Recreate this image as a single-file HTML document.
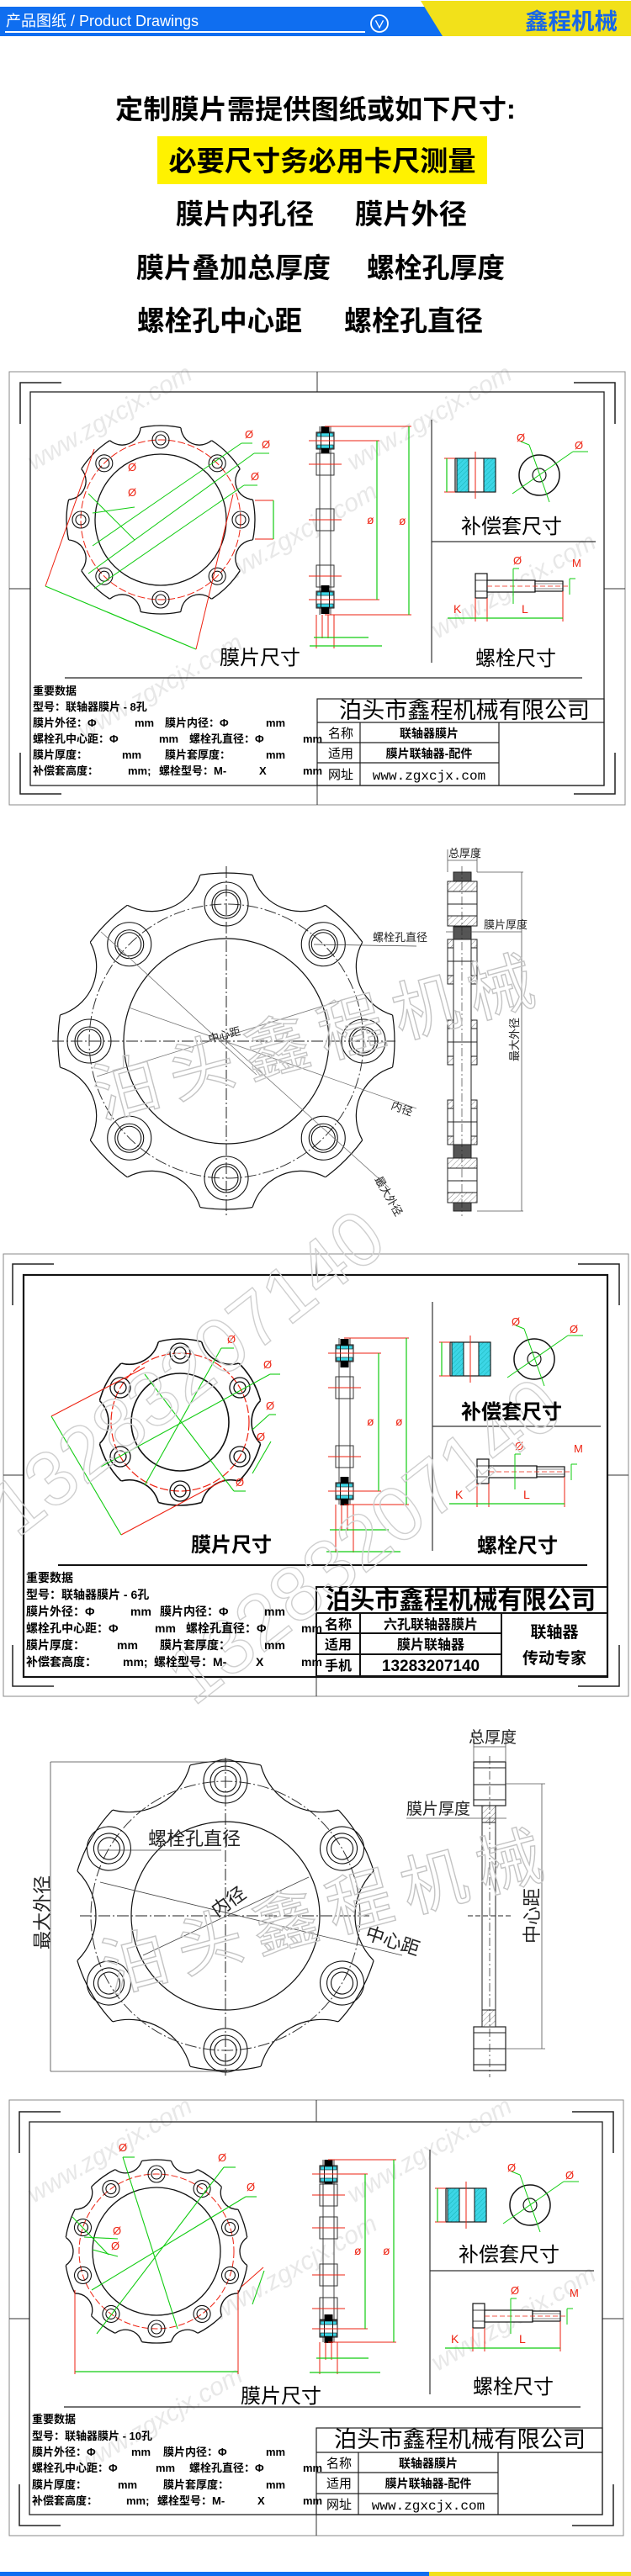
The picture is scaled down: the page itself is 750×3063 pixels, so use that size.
<!DOCTYPE html>
<html><head><meta charset="utf-8"><style>
html,body{margin:0;padding:0;background:#fff;width:750px;height:3063px;overflow:hidden}
svg{display:block;font-family:"Liberation Sans","Noto Sans CJK SC",sans-serif}
.b{font-weight:bold}
</style></head><body>
<svg xmlns="http://www.w3.org/2000/svg" xmlns:xlink="http://www.w3.org/1999/xlink" width="750" height="3063" viewBox="0 0 750 3063">
<defs>
<pattern id="h" width="5" height="5" patternUnits="userSpaceOnUse" patternTransform="rotate(45)"><rect width="5" height="5" fill="#fff"/><line x1="0" y1="0" x2="0" y2="5" stroke="#666" stroke-width="0.8"/></pattern>
<pattern id="hc" width="4" height="4" patternUnits="userSpaceOnUse" patternTransform="rotate(45)"><rect width="4" height="4" fill="#3cd6e6"/><line x1="0" y1="0" x2="0" y2="4" stroke="#1aa" stroke-width="0.8"/></pattern>

<!-- side view pieces -->
<g id="endh">
<rect x="0" y="-10" width="21" height="20" fill="#fff" stroke="#111"/>
<rect x="1" y="-9" width="19" height="4" fill="#3cd6e6" stroke="#111" stroke-width="0.6"/>
<rect x="1" y="5" width="19" height="4" fill="#3cd6e6" stroke="#111" stroke-width="0.6"/>
<rect x="5.5" y="-17" width="10" height="8" fill="#000"/>
<rect x="5.5" y="9" width="10" height="8" fill="#000"/>
<line x1="5.5" y1="-9" x2="5.5" y2="9" stroke="#111"/><line x1="15.5" y1="-9" x2="15.5" y2="9" stroke="#111"/>
<line x1="-9" y1="0" x2="30" y2="0" stroke="#e21"/>
</g>
<g id="midh">
<rect x="0" y="-13" width="21" height="26" fill="#fff" stroke="#333"/>
<line x1="4" y1="-13" x2="4" y2="13" stroke="#333"/><line x1="17" y1="-13" x2="17" y2="13" stroke="#333"/>
<line x1="-9" y1="0" x2="30" y2="0" stroke="#e21"/>
</g>
<!-- sleeve + washer -->
<g id="slv">
<rect x="0" y="0" width="48" height="40" fill="#fff" stroke="#111" stroke-width="1.2"/>
<rect x="2" y="0" width="14" height="40" fill="url(#hc)" stroke="#111"/>
<rect x="34" y="0" width="14" height="40" fill="url(#hc)" stroke="#111"/>
<line x1="24" y1="-8" x2="24" y2="48" stroke="#e21"/>
<line x1="-13" y1="0" x2="0" y2="0" stroke="#e21"/><line x1="-13" y1="40" x2="0" y2="40" stroke="#e21"/>
<line x1="-10" y1="0" x2="-10" y2="40" stroke="#1c1" stroke-width="1.2"/>
<circle cx="100" cy="20" r="24" fill="none" stroke="#111" stroke-width="1.5"/>
<circle cx="100" cy="20" r="8" fill="none" stroke="#111" stroke-width="1.2"/>
<line x1="68" y1="42" x2="140" y2="-8" stroke="#1c1"/><line x1="140" y1="-8" x2="158" y2="-8" stroke="#1c1"/>
<line x1="88" y1="-16" x2="112" y2="52" stroke="#1c1"/><line x1="88" y1="-16" x2="78" y2="-20" stroke="#1c1"/>
<text x="73" y="-20" font-size="13" fill="#e21">Ø</text><text x="142" y="-11" font-size="13" fill="#e21">Ø</text>
</g>
<!-- bolt -->
<g id="blt">
<rect x="0" y="0" width="14" height="29" fill="#fff" stroke="#111" stroke-width="1.2"/>
<line x1="0" y1="8" x2="14" y2="8" stroke="#111" stroke-width=".8"/><line x1="0" y1="21" x2="14" y2="21" stroke="#111" stroke-width=".8"/>
<rect x="14" y="8" width="57" height="14" fill="#fff" stroke="#111" stroke-width="1.2"/>
<rect x="71" y="9" width="33" height="12" fill="#fff" stroke="#111" stroke-width="1.2"/>
<line x1="71" y1="12" x2="104" y2="12" stroke="#111" stroke-width=".6"/><line x1="71" y1="18" x2="104" y2="18" stroke="#111" stroke-width=".6"/>
<line x1="14" y1="15" x2="112" y2="15" stroke="#e21" stroke-width=".8" stroke-dasharray="6 3"/>
<line x1="0" y1="29" x2="0" y2="57" stroke="#e21"/><line x1="14" y1="29" x2="14" y2="57" stroke="#e21"/><line x1="104" y1="21" x2="104" y2="57" stroke="#e21"/>
<line x1="-33" y1="53" x2="104" y2="53" stroke="#1c1" stroke-width="1.2"/>
<line x1="45" y1="-6" x2="45" y2="36" stroke="#1c1"/><line x1="45" y1="-6" x2="52" y2="-6" stroke="#1c1"/>
<line x1="112" y1="6" x2="112" y2="25" stroke="#1c1"/><line x1="112" y1="6" x2="119" y2="6" stroke="#1c1"/>
<text x="45" y="-11" font-size="13" fill="#e21">Ø</text><text x="115" y="-8" font-size="13" fill="#e21">M</text>
<text x="-26" y="47" font-size="14" fill="#e21">K</text><text x="55" y="47" font-size="14" fill="#e21">L</text>
</g>

<!-- flange 1 -->
<circle id="bt1" cx="191" cy="498" r="22"/>
<g id="hl1"><circle cx="191" cy="523" r="10"/><circle cx="191" cy="523" r="6"/></g>
<clipPath id="c1"><circle cx="191" cy="618" r="112"/></clipPath>
<mask id="m1" maskUnits="userSpaceOnUse" x="0" y="0" width="750" height="3063"><rect width="750" height="3063" fill="#fff"/>
<g fill="#000"><use xlink:href="#bt1" transform="rotate(22.5 191 618)"/><use xlink:href="#bt1" transform="rotate(67.5 191 618)"/><use xlink:href="#bt1" transform="rotate(112.5 191 618)"/><use xlink:href="#bt1" transform="rotate(157.5 191 618)"/><use xlink:href="#bt1" transform="rotate(202.5 191 618)"/><use xlink:href="#bt1" transform="rotate(247.5 191 618)"/><use xlink:href="#bt1" transform="rotate(292.5 191 618)"/><use xlink:href="#bt1" transform="rotate(337.5 191 618)"/></g></mask>
<!-- flange 2 -->
<circle id="bt2" cx="269" cy="1006" r="60"/>
<g id="hl2"><circle cx="269" cy="1075" r="26"/><circle cx="269" cy="1075" r="17"/><circle cx="269" cy="1075" r="14"/></g>
<clipPath id="c2"><circle cx="269" cy="1238" r="200"/></clipPath>
<mask id="m2" maskUnits="userSpaceOnUse" x="0" y="0" width="750" height="3063"><rect width="750" height="3063" fill="#fff"/>
<g fill="#000"><use xlink:href="#bt2" transform="rotate(22.5 269 1238)"/><use xlink:href="#bt2" transform="rotate(67.5 269 1238)"/><use xlink:href="#bt2" transform="rotate(112.5 269 1238)"/><use xlink:href="#bt2" transform="rotate(157.5 269 1238)"/><use xlink:href="#bt2" transform="rotate(202.5 269 1238)"/><use xlink:href="#bt2" transform="rotate(247.5 269 1238)"/><use xlink:href="#bt2" transform="rotate(292.5 269 1238)"/><use xlink:href="#bt2" transform="rotate(337.5 269 1238)"/></g></mask>
<!-- flange 3 -->
<circle id="bt3" cx="214" cy="1570" r="36"/>
<g id="hl3"><circle cx="214" cy="1609" r="12"/><circle cx="214" cy="1609" r="7"/></g>
<clipPath id="c3"><circle cx="214" cy="1691" r="99"/></clipPath>
<mask id="m3" maskUnits="userSpaceOnUse" x="0" y="0" width="750" height="3063"><rect width="750" height="3063" fill="#fff"/>
<g fill="#000"><use xlink:href="#bt3" transform="rotate(30 214 1691)"/><use xlink:href="#bt3" transform="rotate(90 214 1691)"/><use xlink:href="#bt3" transform="rotate(150 214 1691)"/><use xlink:href="#bt3" transform="rotate(210 214 1691)"/><use xlink:href="#bt3" transform="rotate(270 214 1691)"/><use xlink:href="#bt3" transform="rotate(330 214 1691)"/></g></mask>
<!-- flange 4 -->
<circle id="bt4" cx="268" cy="2049" r="75"/>
<g id="hl4"><circle cx="268" cy="2118" r="26"/><circle cx="268" cy="2118" r="18"/><circle cx="268" cy="2118" r="13"/></g>
<clipPath id="c4"><circle cx="268" cy="2278" r="184"/></clipPath>
<mask id="m4" maskUnits="userSpaceOnUse" x="0" y="0" width="750" height="3063"><rect width="750" height="3063" fill="#fff"/>
<g fill="#000"><use xlink:href="#bt4" transform="rotate(30 268 2278)"/><use xlink:href="#bt4" transform="rotate(90 268 2278)"/><use xlink:href="#bt4" transform="rotate(150 268 2278)"/><use xlink:href="#bt4" transform="rotate(210 268 2278)"/><use xlink:href="#bt4" transform="rotate(270 268 2278)"/><use xlink:href="#bt4" transform="rotate(330 268 2278)"/></g></mask>
<!-- flange 5 -->
<circle id="bt5" cx="186" cy="2558" r="20"/>
<g id="hl5"><circle cx="186" cy="2585" r="10"/><circle cx="186" cy="2585" r="6"/></g>
<clipPath id="c5"><circle cx="186" cy="2677" r="109"/></clipPath>
<mask id="m5" maskUnits="userSpaceOnUse" x="0" y="0" width="750" height="3063"><rect width="750" height="3063" fill="#fff"/>
<g fill="#000"><use xlink:href="#bt5" transform="rotate(18 186 2677)"/><use xlink:href="#bt5" transform="rotate(54 186 2677)"/><use xlink:href="#bt5" transform="rotate(90 186 2677)"/><use xlink:href="#bt5" transform="rotate(126 186 2677)"/><use xlink:href="#bt5" transform="rotate(162 186 2677)"/><use xlink:href="#bt5" transform="rotate(198 186 2677)"/><use xlink:href="#bt5" transform="rotate(234 186 2677)"/><use xlink:href="#bt5" transform="rotate(270 186 2677)"/><use xlink:href="#bt5" transform="rotate(306 186 2677)"/><use xlink:href="#bt5" transform="rotate(342 186 2677)"/></g></mask>
</defs>

<!-- header -->
<polygon points="0,8 508,8 528,43 0,43" fill="#0f6ef0"/>
<polygon points="500,1 750,1 750,43 526,43" fill="#f2e11a"/>
<text x="7" y="31" font-size="18" fill="#fff">产品图纸 / Product Drawings</text>
<line x1="6" y1="38" x2="434" y2="38" stroke="#fff" stroke-width="2"/>
<circle cx="451" cy="28" r="10" fill="none" stroke="#fff" stroke-width="1.8"/>
<text x="451" y="34" font-size="13" fill="#fff" text-anchor="middle" class="b">∨</text>
<text x="624" y="35" font-size="27" fill="#1766e8" class="b" textLength="110" lengthAdjust="spacingAndGlyphs">鑫程机械</text>
<!-- titles -->
<text x="375" y="141" font-size="32" text-anchor="middle" class="b" textLength="476" lengthAdjust="spacingAndGlyphs">定制膜片需提供图纸或如下尺寸:</text>
<rect x="187" y="162" width="392" height="57" fill="#fff200"/>
<text x="383" y="203" font-size="33" text-anchor="middle" class="b" textLength="365" lengthAdjust="spacingAndGlyphs">必要尺寸务必用卡尺测量</text>
<text x="209" y="266" font-size="33" class="b" textLength="164" lengthAdjust="spacingAndGlyphs">膜片内孔径</text>
<text x="422" y="266" font-size="33" class="b" textLength="133" lengthAdjust="spacingAndGlyphs">膜片外径</text>
<text x="162" y="330" font-size="33" class="b" textLength="231" lengthAdjust="spacingAndGlyphs">膜片叠加总厚度</text>
<text x="436" y="330" font-size="33" class="b" textLength="164" lengthAdjust="spacingAndGlyphs">螺栓孔厚度</text>
<text x="163" y="393" font-size="33" class="b" textLength="196" lengthAdjust="spacingAndGlyphs">螺栓孔中心距</text>
<text x="409" y="393" font-size="33" class="b" textLength="165" lengthAdjust="spacingAndGlyphs">螺栓孔直径</text>

<!-- faint web watermarks -->
<g fill="#e8e8e8" font-size="30" font-style="italic">
<text transform="translate(40,560) rotate(-30)">www.zgxcjx.com</text>
<text transform="translate(260,700) rotate(-30)">www.zgxcjx.com</text>
<text transform="translate(420,560) rotate(-30)">www.zgxcjx.com</text>
<text transform="translate(520,760) rotate(-30)">www.zgxcjx.com</text>
<text transform="translate(100,880) rotate(-30)">www.zgxcjx.com</text>
<text transform="translate(40,2620) rotate(-30)">www.zgxcjx.com</text>
<text transform="translate(260,2760) rotate(-30)">www.zgxcjx.com</text>
<text transform="translate(420,2620) rotate(-30)">www.zgxcjx.com</text>
<text transform="translate(520,2820) rotate(-30)">www.zgxcjx.com</text>
<text transform="translate(100,2940) rotate(-30)">www.zgxcjx.com</text>
</g>

<!-- ================= DRAWING 1 ================= -->
<g stroke="#888" fill="none"><rect x="11" y="442" width="732" height="515"/></g>
<g stroke="#333"><line x1="11" y1="700" x2="36" y2="700"/><line x1="718" y1="700" x2="743" y2="700"/><line x1="377" y1="442" x2="377" y2="466"/><line x1="377" y1="934" x2="377" y2="957"/></g>
<rect x="36" y="466" width="682" height="468" fill="none" stroke="#222" stroke-width="1.3"/>
<g stroke="#222" stroke-width="1.5" fill="none"><polyline points="73,455 24,455 24,504"/><polyline points="682,455 731,455 731,504"/><polyline points="24,895 24,944 73,944"/><polyline points="682,944 731,944 731,895"/></g>
<line x1="77" y1="806" x2="692" y2="806" stroke="#222" stroke-width="1.3"/>
<g stroke="#222" stroke-width="1.2" fill="none"><rect x="377" y="831" width="341" height="103"/><line x1="377" y1="859" x2="718" y2="859"/><line x1="377" y1="883" x2="593" y2="883"/><line x1="377" y1="907" x2="593" y2="907"/><line x1="428" y1="859" x2="428" y2="934"/><line x1="593" y1="859" x2="593" y2="934"/></g>
<g stroke="#333" stroke-width="1.2"><line x1="513" y1="499" x2="513" y2="788"/><line x1="513" y1="644" x2="708" y2="644"/></g>
<use xlink:href="#slv" x="541" y="545"/><use xlink:href="#blt" x="565" y="682"/>
<!-- flange 1 -->
<circle cx="191" cy="618" r="112" fill="#fff" mask="url(#m1)"/>
<circle cx="191" cy="618" r="112" fill="none" stroke="#111" stroke-width="1.3" mask="url(#m1)"/>
<g fill="none" stroke="#111" stroke-width="1.3" clip-path="url(#c1)"><use xlink:href="#bt1" transform="rotate(22.5 191 618)"/><use xlink:href="#bt1" transform="rotate(67.5 191 618)"/><use xlink:href="#bt1" transform="rotate(112.5 191 618)"/><use xlink:href="#bt1" transform="rotate(157.5 191 618)"/><use xlink:href="#bt1" transform="rotate(202.5 191 618)"/><use xlink:href="#bt1" transform="rotate(247.5 191 618)"/><use xlink:href="#bt1" transform="rotate(292.5 191 618)"/><use xlink:href="#bt1" transform="rotate(337.5 191 618)"/></g>
<circle cx="191" cy="618" r="78" fill="none" stroke="#111" stroke-width="1.3"/>
<circle cx="191" cy="618" r="95" fill="none" stroke="#e21" stroke-dasharray="9 3"/>
<g fill="none" stroke="#111" stroke-width="1.1"><use xlink:href="#hl1"/><use xlink:href="#hl1" transform="rotate(45 191 618)"/><use xlink:href="#hl1" transform="rotate(90 191 618)"/><use xlink:href="#hl1" transform="rotate(135 191 618)"/><use xlink:href="#hl1" transform="rotate(180 191 618)"/><use xlink:href="#hl1" transform="rotate(225 191 618)"/><use xlink:href="#hl1" transform="rotate(270 191 618)"/><use xlink:href="#hl1" transform="rotate(315 191 618)"/></g>
<g stroke="#1c1" fill="none">
<line x1="110" y1="649" x2="287" y2="527"/><line x1="287" y1="527" x2="300" y2="527"/>
<line x1="105" y1="682" x2="302" y2="539"/><line x1="302" y1="539" x2="320" y2="539"/>
<line x1="112" y1="700" x2="290" y2="577"/><line x1="290" y1="577" x2="306" y2="577"/>
<line x1="105" y1="587" x2="160" y2="642"/><line x1="110" y1="610" x2="160" y2="603"/>
<line x1="54" y1="697" x2="233" y2="772" stroke-width="1.2"/>
<line x1="303" y1="595" x2="325" y2="595" stroke="#e21"/><line x1="303" y1="641" x2="325" y2="641" stroke="#e21"/><line x1="325" y1="595" x2="325" y2="641" stroke-width="1.2"/>
</g>
<g stroke="#e21"><line x1="54" y1="697" x2="112" y2="534"/><line x1="233" y1="772" x2="277" y2="588"/></g>
<g font-size="13" fill="#e21"><text x="291" y="521">Ø</text><text x="311" y="533">Ø</text><text x="298" y="571">Ø</text><text x="152" y="560">Ø</text><text x="152" y="590">Ø</text></g>
<!-- side 1 -->
<g stroke="#444"><line x1="380" y1="507" x2="380" y2="731"/><line x1="393" y1="507" x2="393" y2="731"/></g>
<use xlink:href="#endh" x="376" y="524"/><use xlink:href="#midh" x="376" y="552"/><use xlink:href="#midh" x="376" y="618"/><use xlink:href="#midh" x="376" y="685"/><use xlink:href="#endh" x="376" y="713"/>
<g stroke="#e21"><line x1="397" y1="524" x2="451" y2="524"/><line x1="397" y1="713" x2="451" y2="713"/><line x1="386" y1="507" x2="489" y2="507"/><line x1="386" y1="731" x2="489" y2="731"/>
<line x1="376" y1="731" x2="376" y2="771"/><line x1="397" y1="731" x2="397" y2="771"/><line x1="383" y1="731" x2="383" y2="759"/><line x1="390" y1="731" x2="390" y2="759"/></g>
<g stroke="#1c1" stroke-width="1.2"><line x1="448" y1="524" x2="448" y2="713"/><line x1="486" y1="507" x2="486" y2="731"/><line x1="373" y1="758" x2="438" y2="758"/><line x1="368" y1="768" x2="454" y2="768"/></g>
<g font-size="14" fill="#e21"><text x="436" y="623">ø</text><text x="474" y="624">ø</text></g>
<!-- texts 1 -->
<g font-size="24"><text x="261" y="790">膜片尺寸</text><text x="548" y="634">补偿套尺寸</text><text x="565" y="791">螺栓尺寸</text></g>
<g font-size="13" class="b">
<text x="39" y="826">重要数据</text>
<text x="39" y="845">型号：联轴器膜片 - 8孔</text>
<text x="39" y="864">膜片外径：Φ</text><text x="160" y="864">mm</text><text x="196" y="864">膜片内径：Φ</text><text x="316" y="864">mm</text>
<text x="39" y="883">螺栓孔中心距：Φ</text><text x="189" y="883">mm</text><text x="225" y="883">螺栓孔直径：Φ</text><text x="360" y="883">mm</text>
<text x="39" y="902">膜片厚度：</text><text x="145" y="902">mm</text><text x="196" y="902">膜片套厚度：</text><text x="316" y="902">mm</text>
<text x="39" y="921">补偿套高度：</text><text x="152" y="921">mm;</text><text x="189" y="921">螺栓型号：M-</text><text x="308" y="921">X</text><text x="360" y="921">mm</text>
</g>
<text x="403" y="854" font-size="27" textLength="298" lengthAdjust="spacingAndGlyphs">泊头市鑫程机械有限公司</text>
<g font-size="15"><text x="390" y="877">名称</text><text x="390" y="901">适用</text><text x="390" y="926">网址</text></g>
<g font-size="14" class="b" text-anchor="middle"><text x="510" y="877">联轴器膜片</text><text x="510" y="901">膜片联轴器-配件</text></g>
<text x="510" y="927" font-size="16" text-anchor="middle" font-family="Liberation Mono,monospace">www.zgxcjx.com</text>

<!-- ================= DRAWING 2 ================= -->
<circle cx="269" cy="1238" r="200" fill="#fff" mask="url(#m2)"/>
<circle cx="269" cy="1238" r="200" fill="none" stroke="#111" stroke-width="1.2" mask="url(#m2)"/>
<g fill="none" stroke="#111" stroke-width="1.2" clip-path="url(#c2)"><use xlink:href="#bt2" transform="rotate(22.5 269 1238)"/><use xlink:href="#bt2" transform="rotate(67.5 269 1238)"/><use xlink:href="#bt2" transform="rotate(112.5 269 1238)"/><use xlink:href="#bt2" transform="rotate(157.5 269 1238)"/><use xlink:href="#bt2" transform="rotate(202.5 269 1238)"/><use xlink:href="#bt2" transform="rotate(247.5 269 1238)"/><use xlink:href="#bt2" transform="rotate(292.5 269 1238)"/><use xlink:href="#bt2" transform="rotate(337.5 269 1238)"/></g>
<circle cx="269" cy="1238" r="122" fill="none" stroke="#111" stroke-width="1.2"/>
<circle cx="269" cy="1238" r="163" fill="none" stroke="#333" stroke-dasharray="14 3 2 3"/>
<g fill="none" stroke="#111" stroke-width="1.1"><use xlink:href="#hl2"/><use xlink:href="#hl2" transform="rotate(45 269 1238)"/><use xlink:href="#hl2" transform="rotate(90 269 1238)"/><use xlink:href="#hl2" transform="rotate(135 269 1238)"/><use xlink:href="#hl2" transform="rotate(180 269 1238)"/><use xlink:href="#hl2" transform="rotate(225 269 1238)"/><use xlink:href="#hl2" transform="rotate(270 269 1238)"/><use xlink:href="#hl2" transform="rotate(315 269 1238)"/></g>
<g stroke="#222" stroke-dasharray="14 3 2 3"><line x1="62" y1="1238" x2="470" y2="1238"/><line x1="269" y1="1030" x2="269" y2="1446"/></g>
<g stroke="#777" stroke-width=".8"><line x1="120" y1="1108" x2="305" y2="1278"/><line x1="153" y1="1198" x2="495" y2="1318"/><line x1="269" y1="1238" x2="462" y2="1412"/><line x1="115" y1="1280" x2="420" y2="1185"/><line x1="373" y1="1123" x2="495" y2="1125" stroke="#444"/></g>
<!-- side 2 -->
<g stroke="#222"><line x1="539" y1="1048" x2="539" y2="1430"/><line x1="560" y1="1048" x2="560" y2="1430"/></g>
<g fill="#555" stroke="#222"><rect x="539" y="1037" width="21" height="11"/><rect x="539" y="1102" width="21" height="15"/><rect x="539" y="1361" width="21" height="16"/><rect x="539" y="1428" width="21" height="12"/></g>
<g stroke="#222">
<rect x="532" y="1048" width="35" height="53" fill="#fff"/><rect x="532" y="1048" width="35" height="12" fill="url(#h)"/><rect x="532" y="1089" width="35" height="12" fill="url(#h)"/><line x1="532" y1="1075" x2="567" y2="1075"/>
<rect x="532" y="1377" width="35" height="53" fill="#fff"/><rect x="532" y="1377" width="35" height="12" fill="url(#h)"/><rect x="532" y="1418" width="35" height="12" fill="url(#h)"/><line x1="532" y1="1404" x2="567" y2="1404"/>
<rect x="532" y="1117" width="7" height="53" fill="#fff"/><rect x="560" y="1117" width="7" height="53" fill="#fff"/><rect x="532" y="1117" width="7" height="10" fill="url(#h)"/><rect x="560" y="1117" width="7" height="10" fill="url(#h)"/><rect x="532" y="1160" width="7" height="10" fill="url(#h)"/><rect x="560" y="1160" width="7" height="10" fill="url(#h)"/><line x1="532" y1="1143" x2="567" y2="1143"/>
<rect x="532" y="1213" width="7" height="53" fill="#fff"/><rect x="560" y="1213" width="7" height="53" fill="#fff"/><rect x="532" y="1213" width="7" height="10" fill="url(#h)"/><rect x="560" y="1213" width="7" height="10" fill="url(#h)"/><rect x="532" y="1256" width="7" height="10" fill="url(#h)"/><rect x="560" y="1256" width="7" height="10" fill="url(#h)"/><line x1="532" y1="1239" x2="567" y2="1239"/>
<rect x="532" y="1308" width="7" height="53" fill="#fff"/><rect x="560" y="1308" width="7" height="53" fill="#fff"/><rect x="532" y="1308" width="7" height="10" fill="url(#h)"/><rect x="560" y="1308" width="7" height="10" fill="url(#h)"/><rect x="532" y="1351" width="7" height="10" fill="url(#h)"/><rect x="560" y="1351" width="7" height="10" fill="url(#h)"/><line x1="532" y1="1334" x2="567" y2="1334"/>
</g>
<line x1="549" y1="1030" x2="549" y2="1446" stroke="#222" stroke-width=".6" stroke-dasharray="10 3 2 3"/>
<g stroke="#555" stroke-width=".8"><line x1="532" y1="1010" x2="532" y2="1037"/><line x1="567" y1="1010" x2="567" y2="1037"/><line x1="532" y1="1023" x2="567" y2="1023"/><line x1="567" y1="1037" x2="622" y2="1037"/><line x1="567" y1="1440" x2="622" y2="1440"/><line x1="620" y1="1037" x2="620" y2="1440"/><line x1="530" y1="1108" x2="620" y2="1108"/></g>
<g font-size="13" fill="#222">
<text x="443" y="1119">螺栓孔直径</text>
<text transform="translate(464,1318) rotate(20)">内径</text>
<text transform="translate(445,1402) rotate(60)">最大外径</text>
<text transform="translate(249,1240) rotate(-15)">中心距</text>
<text x="533" y="1019">总厚度</text>
<text x="575" y="1104">膜片厚度</text>
<text transform="translate(616,1262) rotate(-90)">最大外径</text>
</g>
<g fill="none" stroke="#c4c4c4" stroke-width="1.4" font-size="78" letter-spacing="14"><text transform="translate(120,1330) rotate(-15)">泊头鑫程机械</text></g>

<!-- ================= DRAWING 3 ================= -->
<rect x="4" y="1491" width="743" height="526" fill="none" stroke="#888"/>
<g stroke="#333"><line x1="4" y1="1754" x2="28" y2="1754"/><line x1="722" y1="1754" x2="747" y2="1754"/><line x1="376" y1="1491" x2="376" y2="1516"/><line x1="376" y1="1994" x2="376" y2="2017"/></g>
<rect x="28" y="1516" width="694" height="478" fill="none" stroke="#111" stroke-width="2.2"/>
<g stroke="#222" stroke-width="1.5" fill="none"><polyline points="64,1503 15,1503 15,1552"/><polyline points="687,1503 736,1503 736,1552"/><polyline points="15,1956 15,2005 64,2005"/><polyline points="687,2005 736,2005 736,1956"/></g>
<line x1="69" y1="1861" x2="698" y2="1861" stroke="#111" stroke-width="2"/>
<g stroke="#111" stroke-width="2" fill="none"><rect x="376" y="1887" width="346" height="106"/><line x1="376" y1="1918" x2="722" y2="1918"/><line x1="376" y1="1942" x2="596" y2="1942"/><line x1="376" y1="1967" x2="596" y2="1967"/><line x1="428" y1="1918" x2="428" y2="1993"/><line x1="596" y1="1918" x2="596" y2="1993"/></g>
<g stroke="#333" stroke-width="1.2"><line x1="514" y1="1548" x2="514" y2="1844"/><line x1="514" y1="1696" x2="714" y2="1696"/></g>
<use xlink:href="#slv" x="535" y="1596"/><use xlink:href="#blt" x="567" y="1735"/>
<circle cx="214" cy="1691" r="99" fill="#fff" mask="url(#m3)"/>
<circle cx="214" cy="1691" r="99" fill="none" stroke="#111" stroke-width="1.6" mask="url(#m3)"/>
<g fill="none" stroke="#111" stroke-width="1.6" clip-path="url(#c3)"><use xlink:href="#bt3" transform="rotate(30 214 1691)"/><use xlink:href="#bt3" transform="rotate(90 214 1691)"/><use xlink:href="#bt3" transform="rotate(150 214 1691)"/><use xlink:href="#bt3" transform="rotate(210 214 1691)"/><use xlink:href="#bt3" transform="rotate(270 214 1691)"/><use xlink:href="#bt3" transform="rotate(330 214 1691)"/></g>
<circle cx="214" cy="1691" r="58" fill="none" stroke="#111" stroke-width="1.6"/>
<circle cx="214" cy="1691" r="82" fill="none" stroke="#e21" stroke-width="1.2" stroke-dasharray="10 3"/>
<g fill="none" stroke="#111" stroke-width="1.3"><use xlink:href="#hl3"/><use xlink:href="#hl3" transform="rotate(60 214 1691)"/><use xlink:href="#hl3" transform="rotate(120 214 1691)"/><use xlink:href="#hl3" transform="rotate(180 214 1691)"/><use xlink:href="#hl3" transform="rotate(240 214 1691)"/><use xlink:href="#hl3" transform="rotate(300 214 1691)"/></g>
<g stroke="#e21" stroke-width="1.1"><line x1="61" y1="1684" x2="172" y2="1626"/><line x1="144" y1="1825" x2="268" y2="1759"/></g>
<g stroke="#1c1" stroke-width="1.1">
<line x1="61" y1="1684" x2="144" y2="1825"/>
<line x1="172" y1="1766" x2="263" y2="1603"/><line x1="263" y1="1603" x2="278" y2="1603"/>
<line x1="120" y1="1744" x2="321" y2="1634"/><line x1="321" y1="1634" x2="333" y2="1634"/>
<line x1="172" y1="1634" x2="278" y2="1773"/><line x1="278" y1="1773" x2="292" y2="1773"/>
<line x1="300" y1="1700" x2="320" y2="1682"/><line x1="320" y1="1682" x2="328" y2="1682"/>
<line x1="300" y1="1752" x2="322" y2="1714"/>
</g>
<g font-size="13" fill="#e21"><text x="270" y="1597">Ø</text><text x="313" y="1627">Ø</text><text x="280" y="1767">Ø</text><text x="316" y="1676">Ø</text><text x="305" y="1713">Ø</text></g>
<g stroke="#444"><line x1="403" y1="1591" x2="403" y2="1789"/><line x1="416" y1="1591" x2="416" y2="1789"/></g>
<use xlink:href="#endh" x="399" y="1609"/><use xlink:href="#midh" x="399" y="1650"/><use xlink:href="#midh" x="399" y="1732"/><use xlink:href="#endh" x="399" y="1773"/>
<g stroke="#e21"><line x1="420" y1="1609" x2="453" y2="1609"/><line x1="420" y1="1773" x2="453" y2="1773"/><line x1="409" y1="1591" x2="486" y2="1591"/><line x1="409" y1="1789" x2="486" y2="1789"/>
<line x1="399" y1="1789" x2="399" y2="1846"/><line x1="420" y1="1789" x2="420" y2="1846"/><line x1="406" y1="1789" x2="406" y2="1820"/><line x1="413" y1="1789" x2="413" y2="1820"/></g>
<g stroke="#1c1" stroke-width="1.2"><line x1="450" y1="1609" x2="450" y2="1773"/><line x1="483" y1="1591" x2="483" y2="1789"/><line x1="392" y1="1819" x2="462" y2="1819"/><line x1="388" y1="1845" x2="476" y2="1845"/></g>
<g font-size="14" fill="#e21"><text x="436" y="1695">ø</text><text x="470" y="1695">ø</text></g>
<g fill="none" stroke="#cfcfcf" stroke-width="1.4" font-size="92"><text transform="translate(20,1830) rotate(-38)">13283207140</text><text transform="translate(230,2030) rotate(-38)">13283207140</text></g>
<g font-size="24" class="b"><text x="227" y="1845">膜片尺寸</text><text x="548" y="1687">补偿套尺寸</text><text x="567" y="1846">螺栓尺寸</text></g>
<g font-size="14" class="b">
<text x="31" y="1881">重要数据</text>
<text x="31" y="1901">型号：联轴器膜片 - 6孔</text>
<text x="31" y="1921">膜片外径：Φ</text><text x="155" y="1921">mm</text><text x="190" y="1921">膜片内径：Φ</text><text x="314" y="1921">mm</text>
<text x="31" y="1941">螺栓孔中心距：Φ</text><text x="184" y="1941">mm</text><text x="221" y="1941">螺栓孔直径：Φ</text><text x="358" y="1941">mm</text>
<text x="31" y="1961">膜片厚度：</text><text x="139" y="1961">mm</text><text x="190" y="1961">膜片套厚度：</text><text x="314" y="1961">mm</text>
<text x="31" y="1981">补偿套高度：</text><text x="146" y="1981">mm;</text><text x="183" y="1981">螺栓型号：M-</text><text x="304" y="1981">X</text><text x="358" y="1981">mm</text>
</g>
<text x="387" y="1913" font-size="30" class="b" textLength="321" lengthAdjust="spacingAndGlyphs">泊头市鑫程机械有限公司</text>
<g font-size="16" class="b"><text x="386" y="1937">名称</text><text x="386" y="1961">适用</text><text x="386" y="1986">手机</text></g>
<g font-size="16" class="b" text-anchor="middle"><text x="512" y="1937">六孔联轴器膜片</text><text x="512" y="1961">膜片联轴器</text><text x="512" y="1987" font-size="19">13283207140</text>
<text x="659" y="1947" font-size="19">联轴器</text><text x="659" y="1978" font-size="19">传动专家</text></g>

<!-- ================= DRAWING 4 ================= -->
<circle cx="268" cy="2278" r="184" fill="#fff" mask="url(#m4)"/>
<circle cx="268" cy="2278" r="184" fill="none" stroke="#111" stroke-width="1.2" mask="url(#m4)"/>
<g fill="none" stroke="#111" stroke-width="1.2" clip-path="url(#c4)"><use xlink:href="#bt4" transform="rotate(30 268 2278)"/><use xlink:href="#bt4" transform="rotate(90 268 2278)"/><use xlink:href="#bt4" transform="rotate(150 268 2278)"/><use xlink:href="#bt4" transform="rotate(210 268 2278)"/><use xlink:href="#bt4" transform="rotate(270 268 2278)"/><use xlink:href="#bt4" transform="rotate(330 268 2278)"/></g>
<circle cx="268" cy="2278" r="112" fill="none" stroke="#111" stroke-width="1.2"/>
<circle cx="268" cy="2278" r="160" fill="none" stroke="#333" stroke-dasharray="14 3 2 3"/>
<g fill="none" stroke="#111" stroke-width="1.1"><use xlink:href="#hl4"/><use xlink:href="#hl4" transform="rotate(60 268 2278)"/><use xlink:href="#hl4" transform="rotate(120 268 2278)"/><use xlink:href="#hl4" transform="rotate(180 268 2278)"/><use xlink:href="#hl4" transform="rotate(240 268 2278)"/><use xlink:href="#hl4" transform="rotate(300 268 2278)"/></g>
<g stroke="#222" stroke-dasharray="14 3 2 3"><line x1="95" y1="2278" x2="440" y2="2278"/><line x1="268" y1="2090" x2="268" y2="2468"/></g>
<g stroke="#444" stroke-width=".8"><line x1="60" y1="2095" x2="270" y2="2095"/><line x1="60" y1="2463" x2="270" y2="2463"/><line x1="60" y1="2095" x2="60" y2="2463"/><line x1="118" y1="2200" x2="263" y2="2200"/><line x1="119" y1="2238" x2="478" y2="2325"/><line x1="170" y1="2325" x2="367" y2="2232"/></g>
<g stroke="#222">
<rect x="563" y="2095" width="38" height="52" fill="#fff" stroke-width="1.2"/><line x1="563" y1="2102" x2="601" y2="2102"/><line x1="563" y1="2122" x2="601" y2="2122"/><line x1="563" y1="2140" x2="601" y2="2140"/>
<rect x="563" y="2410" width="38" height="52" fill="#fff" stroke-width="1.2"/><line x1="563" y1="2417" x2="601" y2="2417"/><line x1="563" y1="2436" x2="601" y2="2436"/><line x1="563" y1="2455" x2="601" y2="2455"/>
<rect x="573" y="2147" width="16" height="263" fill="#fff"/><rect x="573" y="2147" width="16" height="20" fill="url(#h)"/><rect x="573" y="2390" width="16" height="20" fill="url(#h)"/>
<line x1="582" y1="2088" x2="582" y2="2470" stroke-width=".7" stroke-dasharray="10 3 2 3"/><line x1="556" y1="2278" x2="608" y2="2278" stroke-dasharray="6 3"/>
</g>
<g stroke="#555" stroke-width=".8"><line x1="563" y1="2062" x2="563" y2="2095"/><line x1="601" y1="2062" x2="601" y2="2095"/><line x1="563" y1="2077" x2="601" y2="2077"/><line x1="601" y1="2121" x2="648" y2="2121"/><line x1="601" y1="2436" x2="648" y2="2436"/><line x1="644" y1="2121" x2="644" y2="2436"/><line x1="483" y1="2162" x2="602" y2="2162"/></g>
<g font-size="22" fill="#222">
<text transform="translate(58,2318) rotate(-90)">最大外径</text>
<text x="176" y="2194">螺栓孔直径</text>
<text transform="translate(258,2280) rotate(-35)">内径</text>
<text transform="translate(433,2305) rotate(18)">中心距</text>
<text x="557" y="2072" font-size="19">总厚度</text>
<text x="483" y="2157" font-size="19">膜片厚度</text>
<text transform="translate(640,2311) rotate(-90)">中心距</text>
</g>
<g fill="none" stroke="#c4c4c4" stroke-width="1.4" font-size="78" letter-spacing="14"><text transform="translate(130,2370) rotate(-15)">泊头鑫程机械</text></g>

<!-- ================= DRAWING 5 ================= -->
<rect x="11" y="2497" width="730" height="518" fill="none" stroke="#888"/>
<g stroke="#333"><line x1="11" y1="2757" x2="35" y2="2757"/><line x1="716" y1="2757" x2="741" y2="2757"/><line x1="376" y1="2497" x2="376" y2="2523"/><line x1="376" y1="2990" x2="376" y2="3015"/></g>
<rect x="35" y="2523" width="681" height="467" fill="none" stroke="#222" stroke-width="1.3"/>
<g stroke="#222" stroke-width="1.5" fill="none"><polyline points="72,2511 23,2511 23,2560"/><polyline points="680,2511 729,2511 729,2560"/><polyline points="23,2954 23,3003 72,3003"/><polyline points="680,3003 729,3003 729,2954"/></g>
<line x1="76" y1="2862" x2="690" y2="2862" stroke="#222" stroke-width="1.3"/>
<g stroke="#222" stroke-width="1.2" fill="none"><rect x="376" y="2887" width="340" height="103"/><line x1="376" y1="2916" x2="716" y2="2916"/><line x1="376" y1="2940" x2="592" y2="2940"/><line x1="376" y1="2965" x2="592" y2="2965"/><line x1="426" y1="2916" x2="426" y2="2990"/><line x1="592" y1="2916" x2="592" y2="2990"/></g>
<g stroke="#333" stroke-width="1.2"><line x1="511" y1="2556" x2="511" y2="2847"/><line x1="511" y1="2700" x2="706" y2="2700"/></g>
<use xlink:href="#slv" x="530" y="2602"/><use xlink:href="#blt" x="562" y="2739"/>
<circle cx="186" cy="2677" r="109" fill="#fff" mask="url(#m5)"/>
<circle cx="186" cy="2677" r="109" fill="none" stroke="#111" stroke-width="1.3" mask="url(#m5)"/>
<g fill="none" stroke="#111" stroke-width="1.3" clip-path="url(#c5)"><use xlink:href="#bt5" transform="rotate(18 186 2677)"/><use xlink:href="#bt5" transform="rotate(54 186 2677)"/><use xlink:href="#bt5" transform="rotate(90 186 2677)"/><use xlink:href="#bt5" transform="rotate(126 186 2677)"/><use xlink:href="#bt5" transform="rotate(162 186 2677)"/><use xlink:href="#bt5" transform="rotate(198 186 2677)"/><use xlink:href="#bt5" transform="rotate(234 186 2677)"/><use xlink:href="#bt5" transform="rotate(270 186 2677)"/><use xlink:href="#bt5" transform="rotate(306 186 2677)"/><use xlink:href="#bt5" transform="rotate(342 186 2677)"/></g>
<circle cx="186" cy="2677" r="76" fill="none" stroke="#111" stroke-width="1.3"/>
<circle cx="186" cy="2677" r="92" fill="none" stroke="#e21" stroke-dasharray="8 3"/>
<g fill="none" stroke="#111" stroke-width="1.1"><use xlink:href="#hl5"/><use xlink:href="#hl5" transform="rotate(36 186 2677)"/><use xlink:href="#hl5" transform="rotate(72 186 2677)"/><use xlink:href="#hl5" transform="rotate(108 186 2677)"/><use xlink:href="#hl5" transform="rotate(144 186 2677)"/><use xlink:href="#hl5" transform="rotate(180 186 2677)"/><use xlink:href="#hl5" transform="rotate(216 186 2677)"/><use xlink:href="#hl5" transform="rotate(252 186 2677)"/><use xlink:href="#hl5" transform="rotate(288 186 2677)"/><use xlink:href="#hl5" transform="rotate(324 186 2677)"/></g>
<g stroke="#1c1" stroke-width="1.1">
<line x1="146" y1="2565" x2="211" y2="2769"/><line x1="146" y1="2565" x2="160" y2="2565"/>
<line x1="115" y1="2775" x2="266" y2="2577"/><line x1="266" y1="2577" x2="280" y2="2577"/>
<line x1="109" y1="2723" x2="292" y2="2612"/><line x1="292" y1="2612" x2="305" y2="2612"/>
<line x1="86" y1="2636" x2="129" y2="2681"/><line x1="100" y1="2660" x2="140" y2="2662"/><line x1="110" y1="2675" x2="140" y2="2683"/>
<line x1="89" y1="2820" x2="283" y2="2820" stroke-width="1.2"/><line x1="300" y1="2740" x2="314" y2="2700"/>
</g>
<g stroke="#e21"><line x1="89" y1="2723" x2="89" y2="2823"/><line x1="283" y1="2723" x2="283" y2="2823"/><line x1="287" y1="2719" x2="313" y2="2696"/></g>
<g font-size="13" fill="#e21"><text x="141" y="2558">Ø</text><text x="259" y="2570">Ø</text><text x="293" y="2605">Ø</text><text x="134" y="2657">Ø</text><text x="132" y="2675">Ø</text></g>
<g stroke="#444"><line x1="384" y1="2568" x2="384" y2="2785"/><line x1="397" y1="2568" x2="397" y2="2785"/></g>
<use xlink:href="#endh" x="380" y="2585"/><use xlink:href="#midh" x="380" y="2610"/><use xlink:href="#midh" x="380" y="2649"/><use xlink:href="#midh" x="380" y="2705"/><use xlink:href="#midh" x="380" y="2745"/><use xlink:href="#endh" x="380" y="2769"/>
<g stroke="#e21"><line x1="401" y1="2585" x2="437" y2="2585"/><line x1="401" y1="2769" x2="437" y2="2769"/><line x1="390" y1="2568" x2="471" y2="2568"/><line x1="390" y1="2785" x2="471" y2="2785"/>
<line x1="380" y1="2785" x2="380" y2="2823"/><line x1="401" y1="2785" x2="401" y2="2823"/><line x1="387" y1="2785" x2="387" y2="2806"/><line x1="394" y1="2785" x2="394" y2="2806"/></g>
<g stroke="#1c1" stroke-width="1.2"><line x1="434" y1="2585" x2="434" y2="2769"/><line x1="468" y1="2568" x2="468" y2="2785"/><line x1="376" y1="2804" x2="438" y2="2804"/><line x1="368" y1="2821" x2="452" y2="2821"/></g>
<g font-size="14" fill="#e21"><text x="421" y="2681">ø</text><text x="455" y="2681">ø</text></g>
<g font-size="24"><text x="286" y="2857">膜片尺寸</text><text x="545" y="2689">补偿套尺寸</text><text x="562" y="2846">螺栓尺寸</text></g>
<g font-size="13" class="b">
<text x="38" y="2881">重要数据</text>
<text x="38" y="2901">型号：联轴器膜片 - 10孔</text>
<text x="38" y="2920">膜片外径：Φ</text><text x="156" y="2920">mm</text><text x="194" y="2920">膜片内径：Φ</text><text x="316" y="2920">mm</text>
<text x="38" y="2939">螺栓孔中心距：Φ</text><text x="185" y="2939">mm</text><text x="225" y="2939">螺栓孔直径：Φ</text><text x="360" y="2939">mm</text>
<text x="38" y="2959">膜片厚度：</text><text x="140" y="2959">mm</text><text x="194" y="2959">膜片套厚度：</text><text x="316" y="2959">mm</text>
<text x="38" y="2978">补偿套高度：</text><text x="150" y="2978">mm;</text><text x="187" y="2978">螺栓型号：M-</text><text x="306" y="2978">X</text><text x="360" y="2978">mm</text>
</g>
<text x="397" y="2910" font-size="27" textLength="299" lengthAdjust="spacingAndGlyphs">泊头市鑫程机械有限公司</text>
<g font-size="15"><text x="388" y="2934">名称</text><text x="388" y="2958">适用</text><text x="388" y="2983">网址</text></g>
<g font-size="14" class="b" text-anchor="middle"><text x="509" y="2934">联轴器膜片</text><text x="509" y="2958">膜片联轴器-配件</text></g>
<text x="509" y="2984" font-size="16" text-anchor="middle" font-family="Liberation Mono,monospace">www.zgxcjx.com</text>

<rect x="0" y="3058" width="510" height="5" fill="#0f6ef0"/><rect x="510" y="3058" width="240" height="5" fill="#f2e11a"/>
</svg>
</body></html>
